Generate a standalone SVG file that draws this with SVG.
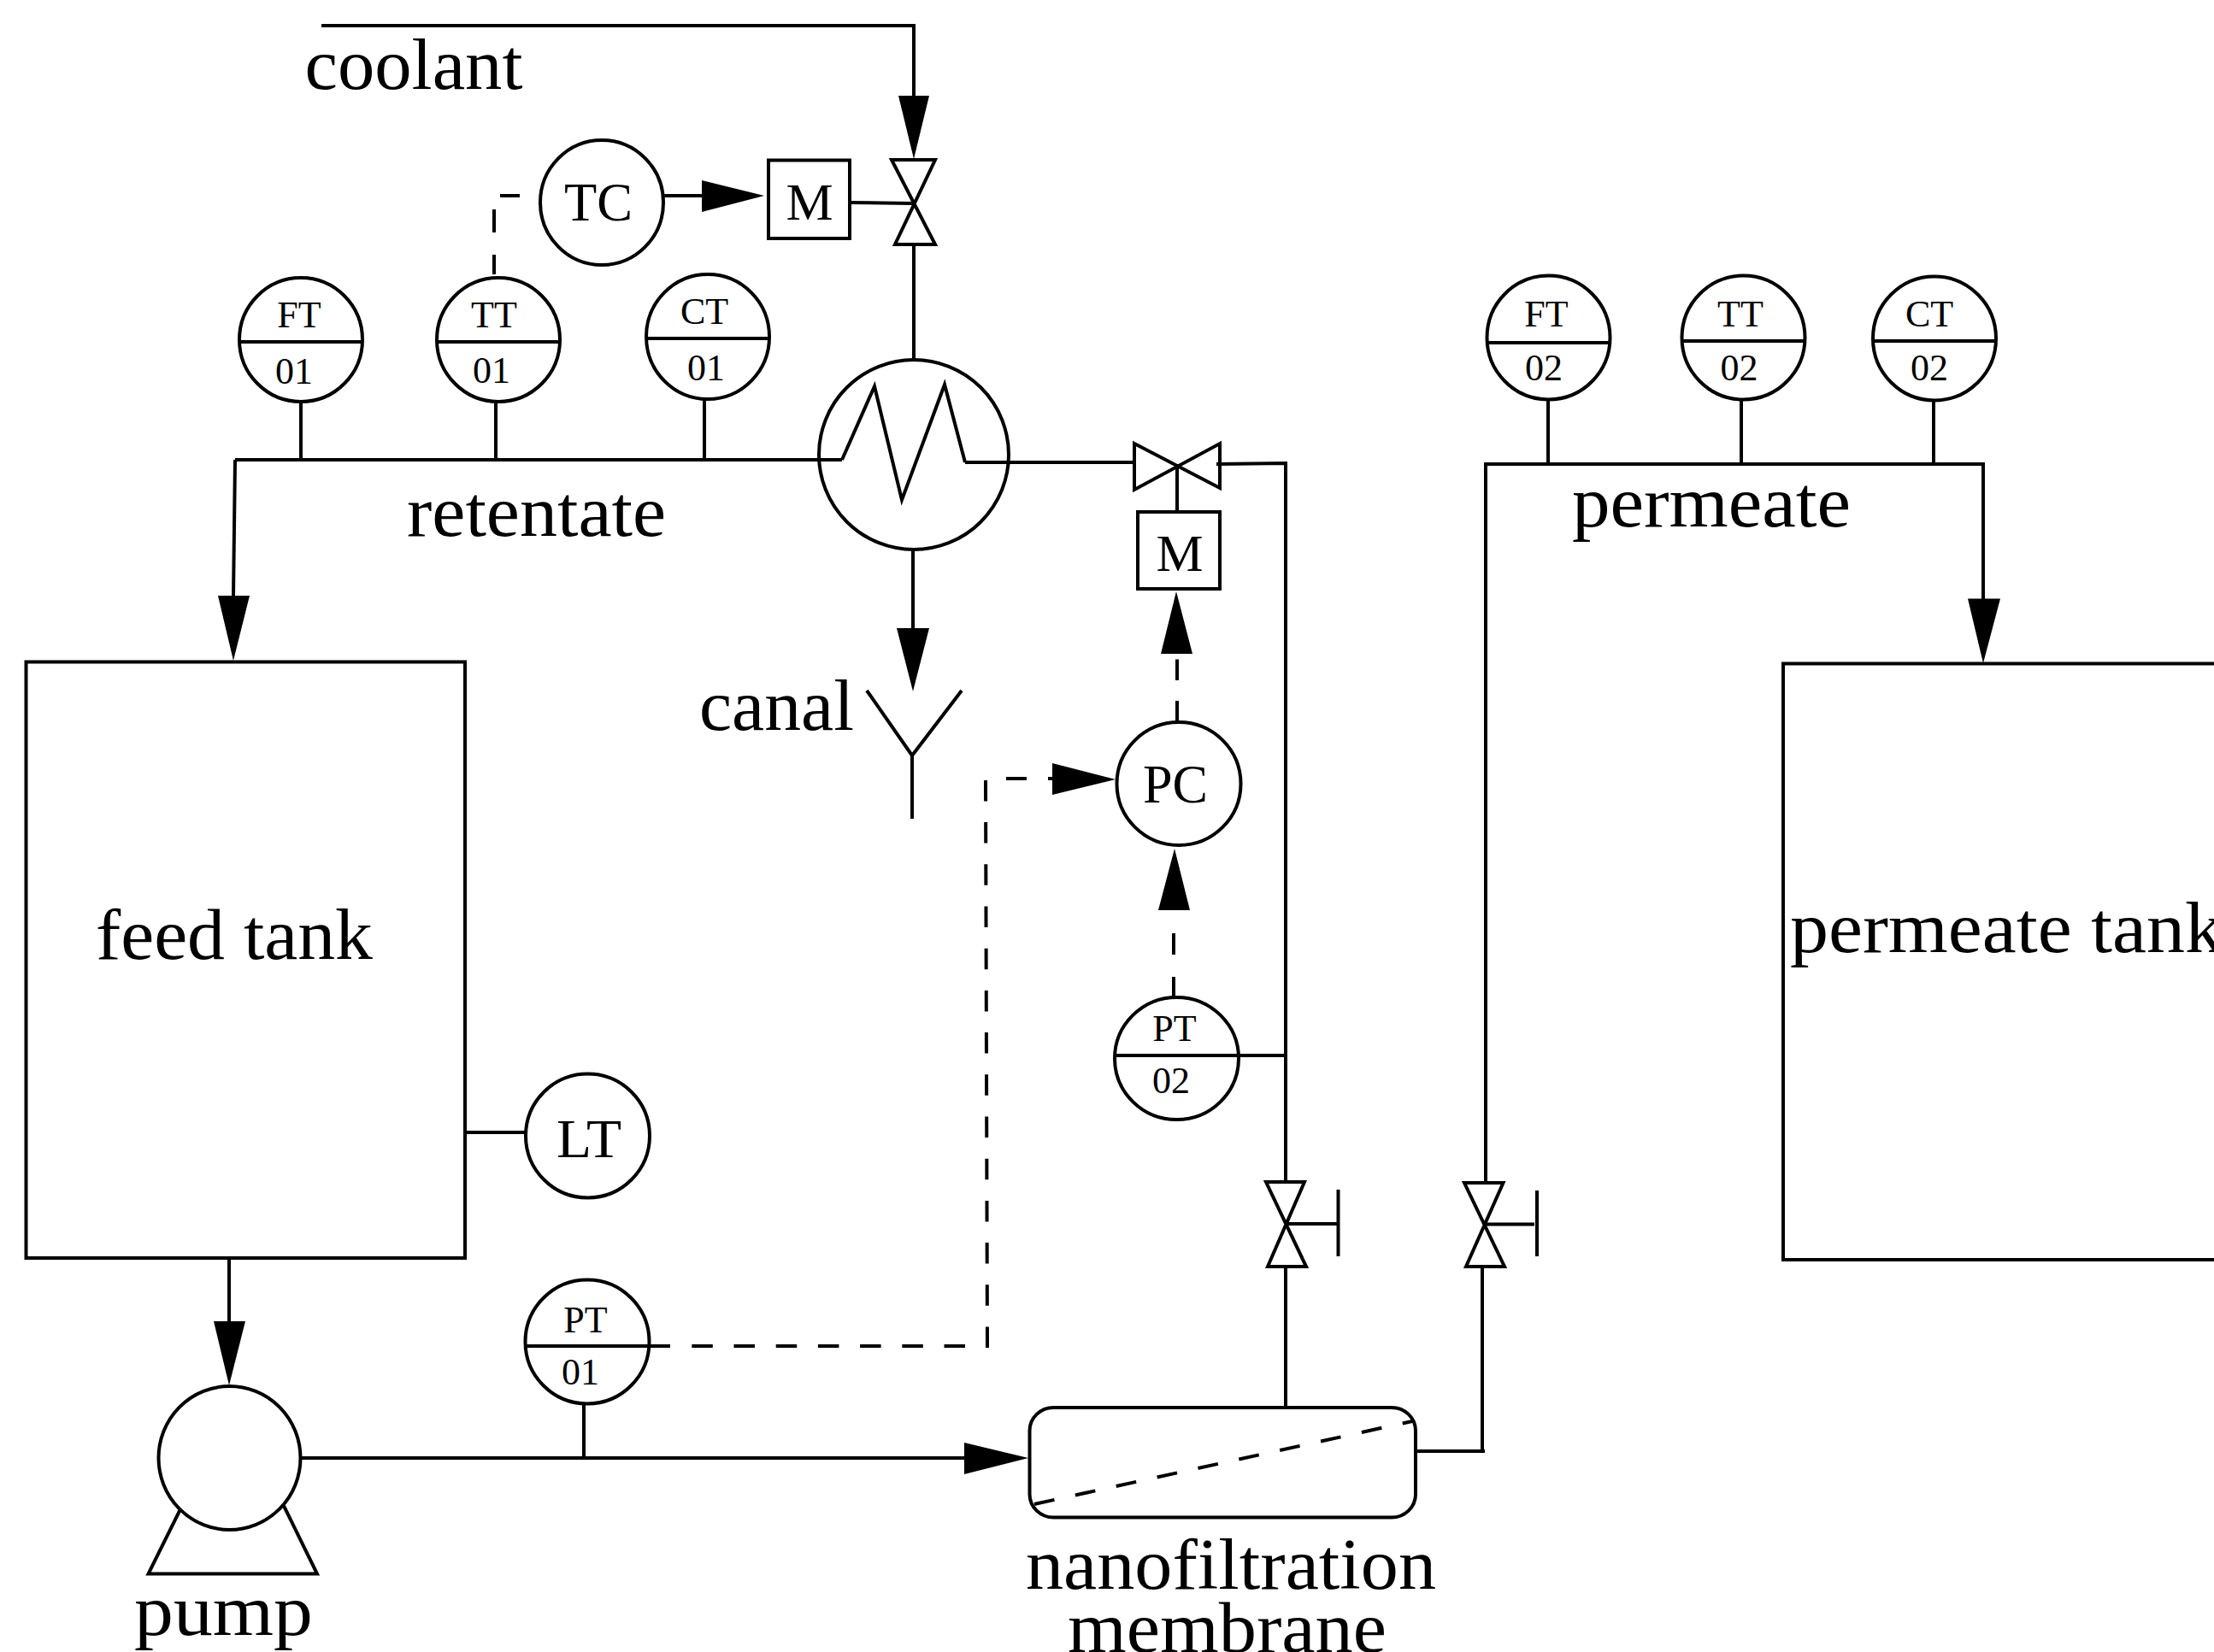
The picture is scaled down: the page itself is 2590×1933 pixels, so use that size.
<svg xmlns="http://www.w3.org/2000/svg" width="2590" height="1933" viewBox="0 0 2590 1933">
<style>
text{font-family:"Liberation Serif","Times New Roman",serif;fill:#000;text-anchor:middle}
.big{font-size:84px;text-anchor:start}
.mid{font-size:62px}
.wide{font-size:64px;text-anchor:start}
.sm{font-size:44px}
.s{fill:none;stroke:#000;stroke-width:4}
.a{fill:#000;stroke:none}
</style>
<rect width="2590" height="1933" fill="#fff"/>
<g id="connectors">
<path class="s" d="M376 30H1069V113"/>
<polygon class="a" points="1051,112 1087,112 1069,186"/>
<path class="s" d="M1069 286L1069 421"/>
<path class="s" d="M777 229H822"/>
<polygon class="a" points="821,211 894,229 821,248"/>
<path class="s" d="M994 237L1068 238"/>
<path class="s" d="M608 229H585M578 245V272M578 298V321"/>
<path class="s" d="M352 470V537M580 470V537M824 467V537M275 538H985"/>
<path class="s" d="M275 538L273 698"/>
<polygon class="a" points="255,697 292,697 273,773"/>
<path class="s" d="M1129 541H1327"/>
<path class="s" d="M1068 644V736"/>
<polygon class="a" points="1049,735 1087,735 1068,809"/>
<path class="s" d="M1423 543L1504 542V1383"/>
<path class="s" d="M1377 547V599"/>
<polygon class="a" points="1358,765 1395,765 1376,692"/>
<path class="s" d="M1377 771.500V796M1377 820V844"/>
<polygon class="a" points="1355,1065 1392,1065 1374,993"/>
<path class="s" d="M1373 1092V1117M1373 1143V1167"/>
<path class="s" d="M1449 1235H1504"/>
<path class="s" d="M1504 1482V1647"/>
<path class="s" d="M1738 1384V543H2320V701"/>
<path class="s" d="M1811 468V543M2037 468V543M2262 469V543"/>
<polygon class="a" points="2302,700.500 2340,700.500 2320,776"/>
<path class="s" d="M1734 1482V1698M1658 1698H1737"/>
<path class="s" d="M1231 911H1226M1201 911H1177"/>
<polygon class="a" points="1231,893 1305,912 1231,930"/>
<path class="s" stroke-dasharray="24.500 24.700" d="M1155 1577L1153 912"/>
<path class="s" stroke-dasharray="24.500 24.700" d="M1129 1575H809"/>
<path class="s" d="M544 1325H615"/>
<path class="s" d="M268 1472V1547"/>
<polygon class="a" points="250,1546 287,1546 268,1621"/>
<path class="s" d="M352 1706H1130"/>
<polygon class="a" points="1128,1688 1203,1706 1128,1725"/>
<path class="s" d="M683 1642V1706"/>
</g>
<g id="feed-tank"><rect class="s" x="30.500" y="774.500" width="513.500" height="697.500"/><text class="big" x="112" y="1121.500" textLength="324" lengthAdjust="spacingAndGlyphs">feed tank</text></g>
<g id="permeate-tank"><rect class="s" x="2086" y="776.500" width="600" height="697.500"/><text class="big" x="2094" y="1114" textLength="507" lengthAdjust="spacingAndGlyphs">permeate tank</text></g>
<g id="pump"><ellipse class="s" cx="268.500" cy="1706" rx="83" ry="84"/><path class="s" d="M211 1766L173.500 1841.500H371L332 1762"/><text class="big" x="157" y="1913" textLength="209" lengthAdjust="spacingAndGlyphs">pump</text></g>
<g id="heat-exchanger"><ellipse class="s" cx="1069" cy="532" rx="111" ry="111"/><path class="s" d="M985 538L1023 452L1055 585L1105 450L1129 541"/></g>
<g id="coolant-valve"><path class="s" d="M1043 187H1094L1047 286H1094Z"/></g>
<g id="retentate-valve"><path class="s" d="M1327 519L1427 571V519L1327 573Z"/></g>
<g id="membrane-valve-1"><path class="s" d="M1481 1383H1526L1483 1482H1528Z"/><path class="s" d="M1504 1432H1564M1565.500 1392V1470"/></g>
<g id="membrane-valve-2"><path class="s" d="M1713 1384H1758.500L1715 1482H1760Z"/><path class="s" d="M1736 1432.500H1795M1798 1393V1470"/></g>
<g id="motor-1"><rect class="s" x="899" y="187.500" width="95" height="91.500"/><text class="mid" x="947" y="257">M</text></g>
<g id="motor-2"><rect class="s" x="1331" y="599" width="96" height="90"/><text class="mid" x="1380" y="668">M</text></g>
<g id="tc"><ellipse class="s" cx="704" cy="237" rx="72" ry="73"/><text class="wide" x="660" y="257.500" textLength="80" lengthAdjust="spacingAndGlyphs">TC</text></g>
<g id="pc"><ellipse class="s" cx="1379" cy="917" rx="72.500" ry="72"/><text class="wide" x="1337" y="939" textLength="76" lengthAdjust="spacingAndGlyphs">PC</text></g>
<g id="lt"><ellipse class="s" cx="687.500" cy="1329" rx="72.500" ry="72.500"/><text class="wide" x="651" y="1354" textLength="76" lengthAdjust="spacingAndGlyphs">LT</text></g>
<g id="ft01"><ellipse class="s" cx="352" cy="397.500" rx="72" ry="72.500"/><path class="s" d="M280 400H424"/><text class="sm" x="350" y="383">FT</text><text class="sm" x="344" y="449">01</text></g>
<g id="tt01"><ellipse class="s" cx="583" cy="397.500" rx="72" ry="72.500"/><path class="s" d="M511 400H655"/><text class="sm" x="578" y="383">TT</text><text class="sm" x="575" y="448">01</text></g>
<g id="ct01"><ellipse class="s" cx="828" cy="394" rx="72" ry="73"/><path class="s" d="M756 396H900"/><text class="sm" x="824" y="379">CT</text><text class="sm" x="826" y="445">01</text></g>
<g id="ft02"><ellipse class="s" cx="1811.500" cy="395" rx="72" ry="72.500"/><path class="s" d="M1740 401H1883"/><text class="sm" x="1809" y="382">FT</text><text class="sm" x="1806" y="444.500">02</text></g>
<g id="tt02"><ellipse class="s" cx="2039.500" cy="395" rx="72" ry="72.500"/><path class="s" d="M1968 399H2111"/><text class="sm" x="2036" y="382">TT</text><text class="sm" x="2034.500" y="445">02</text></g>
<g id="ct02"><ellipse class="s" cx="2263" cy="396" rx="72" ry="72.500"/><path class="s" d="M2191 399H2334"/><text class="sm" x="2257" y="382">CT</text><text class="sm" x="2257" y="445">02</text></g>
<g id="pt01"><ellipse class="s" cx="687" cy="1570" rx="72.500" ry="72.500"/><path class="s" d="M615 1575H784"/><text class="sm" x="685" y="1559">PT</text><text class="sm" x="679" y="1620">01</text></g>
<g id="pt02"><ellipse class="s" cx="1376.500" cy="1238.500" rx="72.500" ry="71.500"/><path class="s" d="M1304 1235H1449"/><text class="sm" x="1374" y="1218">PT</text><text class="sm" x="1370" y="1279">02</text></g>
<g id="membrane"><rect class="s" x="1204.500" y="1647" width="451.500" height="128.500" rx="28" ry="27"/><path class="s" stroke-dasharray="24 25" d="M1210 1760L1652 1663"/><text class="big" x="1200" y="1859" textLength="480" lengthAdjust="spacingAndGlyphs">nanofiltration</text><text class="big" x="1249" y="1933" textLength="373" lengthAdjust="spacingAndGlyphs">membrane</text></g>
<g id="canal"><path class="s" d="M1014 808L1067 884L1125 808M1067 884V958"/><text class="big" x="818" y="854" textLength="181" lengthAdjust="spacingAndGlyphs">canal</text></g>
<g id="labels"><text class="big" x="356.500" y="103.500" textLength="255" lengthAdjust="spacingAndGlyphs">coolant</text><text class="big" x="476" y="627" textLength="303" lengthAdjust="spacingAndGlyphs">retentate</text><text class="big" x="1839" y="616" textLength="326" lengthAdjust="spacingAndGlyphs">permeate</text></g>
</svg>
